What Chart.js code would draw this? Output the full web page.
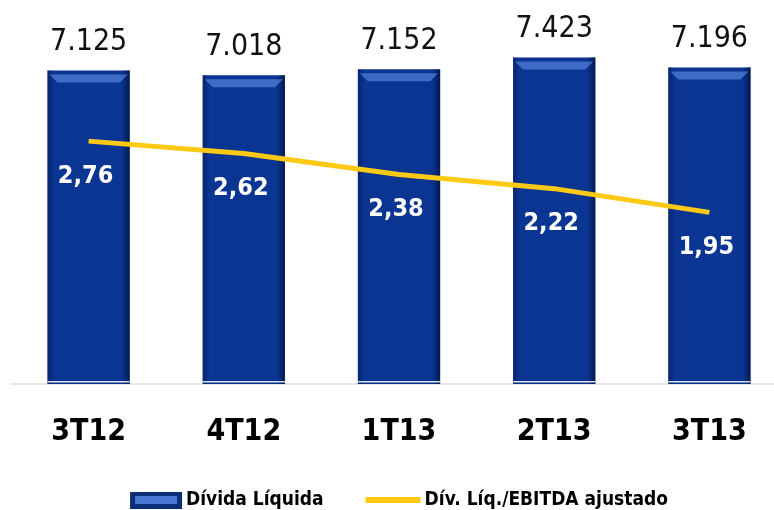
<!DOCTYPE html>
<html lang="pt-BR">
<head>
    <meta charset="UTF-8">
    <title>Dívida Líquida</title>
    <script src="https://cdn.jsdelivr.net/npm/chart.js"></script>
    <style>
        body {
            margin: 0;
            padding: 0;
            background: #fff;
            overflow: hidden;
        }

        .chart-box {
            width: 790px;
            height: 510px;
        }
    </style>
</head>
<body>
    <div class="chart-box"><canvas id="dividaChart" width="790" height="510"></canvas></div>

    <script>
        // dados
        const periodos = ['3T12', '4T12', '1T13', '2T13', '3T13'];
        const dividaLiquida = [7125, 7018, 7152, 7423, 7196];
        const divEbitda = [2.76, 2.62, 2.38, 2.22, 1.95];
        const legendas = ['Dívida Líquida', 'Dív. Líq./EBITDA ajustado'];

        const azul = '#0b3592';
        const amarelo = '#ffc914';
        const fonte = '"DejaVu Sans Condensed", "DejaVu Sans", sans-serif';

        const fmtMil = v => String(v).replace(/\B(?=(\d{3})+(?!\d))/g, '.');
        const fmtDec = v => v.toFixed(2).replace('.', ',');

        // sombreado das barras (bordas escuras + chanfro no topo)
        const barraEstilo = {
            id: 'barraEstilo',
            afterDatasetDraw(chart, args) {
                if (args.index !== 0) return;
                const ctx = chart.ctx;
                args.meta.data.forEach(bar => {
                    const l = bar.x - bar.width / 2, r = bar.x + bar.width / 2;
                    const t = bar.y, b = bar.base, w = r - l;
                    ctx.save();
                    const g = ctx.createLinearGradient(l, 0, r, 0);
                    g.addColorStop(0, 'rgba(0,15,60,0.45)');
                    g.addColorStop(0.08, 'rgba(0,15,60,0)');
                    g.addColorStop(0.9, 'rgba(0,15,60,0)');
                    g.addColorStop(1, 'rgba(0,10,40,0.65)');
                    ctx.fillStyle = g;
                    ctx.fillRect(l, t, w, b - t);

                    ctx.fillStyle = 'rgba(95,145,235,0.6)';
                    ctx.beginPath();
                    ctx.moveTo(l + 2, t + 4);
                    ctx.lineTo(r - 2, t + 4);
                    ctx.lineTo(r - 10, t + 12);
                    ctx.lineTo(l + 10, t + 12);
                    ctx.closePath();
                    ctx.fill();

                    ctx.fillStyle = 'rgba(255,255,255,0.85)';
                    ctx.fillRect(l, b - 3, w, 1.5);
                    ctx.restore();
                });
            }
        };

        // rótulos de valor
        const rotulos = {
            id: 'rotulos',
            afterDatasetsDraw(chart) {
                const ctx = chart.ctx;
                ctx.save();
                ctx.textAlign = 'center';
                ctx.textBaseline = 'middle';

                ctx.font = '30px ' + fonte;
                ctx.fillStyle = '#111';
                chart.getDatasetMeta(0).data.forEach((bar, i) => {
                    ctx.fillText(fmtMil(dividaLiquida[i]), bar.x, bar.y - 28);
                });

                ctx.font = 'bold 25px ' + fonte;
                ctx.fillStyle = '#fff';
                chart.getDatasetMeta(1).data.forEach((pt, i) => {
                    ctx.fillText(fmtDec(divEbitda[i]), pt.x - 3, pt.y + 35);
                });
                ctx.restore();
            }
        };

        // legenda embaixo
        const legendaBaixo = {
            id: 'legendaBaixo',
            afterDraw(chart) {
                const ctx = chart.ctx;
                const area = chart.chartArea;
                ctx.save();
                ctx.font = 'bold 19px ' + fonte;
                ctx.textBaseline = 'middle';
                const y = 500;
                const w1 = ctx.measureText(legendas[0]).width;
                const w2 = ctx.measureText(legendas[1]).width;
                const total = 52 + 4 + w1 + 42 + 55 + 4 + w2;
                let x = (area.left + area.right) / 2 - total / 2;

                ctx.fillStyle = '#0d2f7a';
                ctx.fillRect(x, y - 8, 52, 17);
                ctx.fillStyle = '#4a78d4';
                ctx.fillRect(x + 5, y - 4, 42, 8);
                x += 56;
                ctx.fillStyle = '#000';
                ctx.fillText(legendas[0], x, y);
                x += w1 + 42;

                ctx.fillStyle = amarelo;
                ctx.fillRect(x, y - 3, 55, 6);
                x += 59;
                ctx.fillStyle = '#000';
                ctx.fillText(legendas[1], x, y);
                ctx.restore();
            }
        };

        new Chart(document.getElementById('dividaChart'), {
            data: {
                labels: periodos,
                datasets: [{
                    type: 'bar',
                    label: legendas[0],
                    data: dividaLiquida,
                    backgroundColor: azul,
                    barPercentage: 0.53,
                    categoryPercentage: 1,
                    yAxisID: 'y',
                    order: 1
                }, {
                    type: 'line',
                    label: legendas[1],
                    data: divEbitda,
                    borderColor: amarelo,
                    borderWidth: 5,
                    pointRadius: 0,
                    tension: 0,
                    fill: false,
                    yAxisID: 'y2',
                    order: 0
                }]
            },
            options: {
                responsive: false,
                animation: false,
                devicePixelRatio: 1,
                layout: {
                    padding: { top: 32, bottom: 30, left: 11, right: 3 }
                },
                plugins: {
                    legend: { display: false },
                    tooltip: { enabled: false }
                },
                scales: {
                    x: {
                        grid: { display: false, drawTicks: false },
                        border: { display: true, color: '#e8e8e8', width: 2 },
                        ticks: {
                            color: '#000',
                            padding: 30,
                            font: { family: fonte, size: 30, weight: 'bold' }
                        }
                    },
                    y: { display: false, min: 0, max: 8000 },
                    y2: { display: false, min: 0, max: 4, position: 'right' }
                }
            },
            plugins: [barraEstilo, rotulos, legendaBaixo]
        });
    </script>
</body>
</html>
